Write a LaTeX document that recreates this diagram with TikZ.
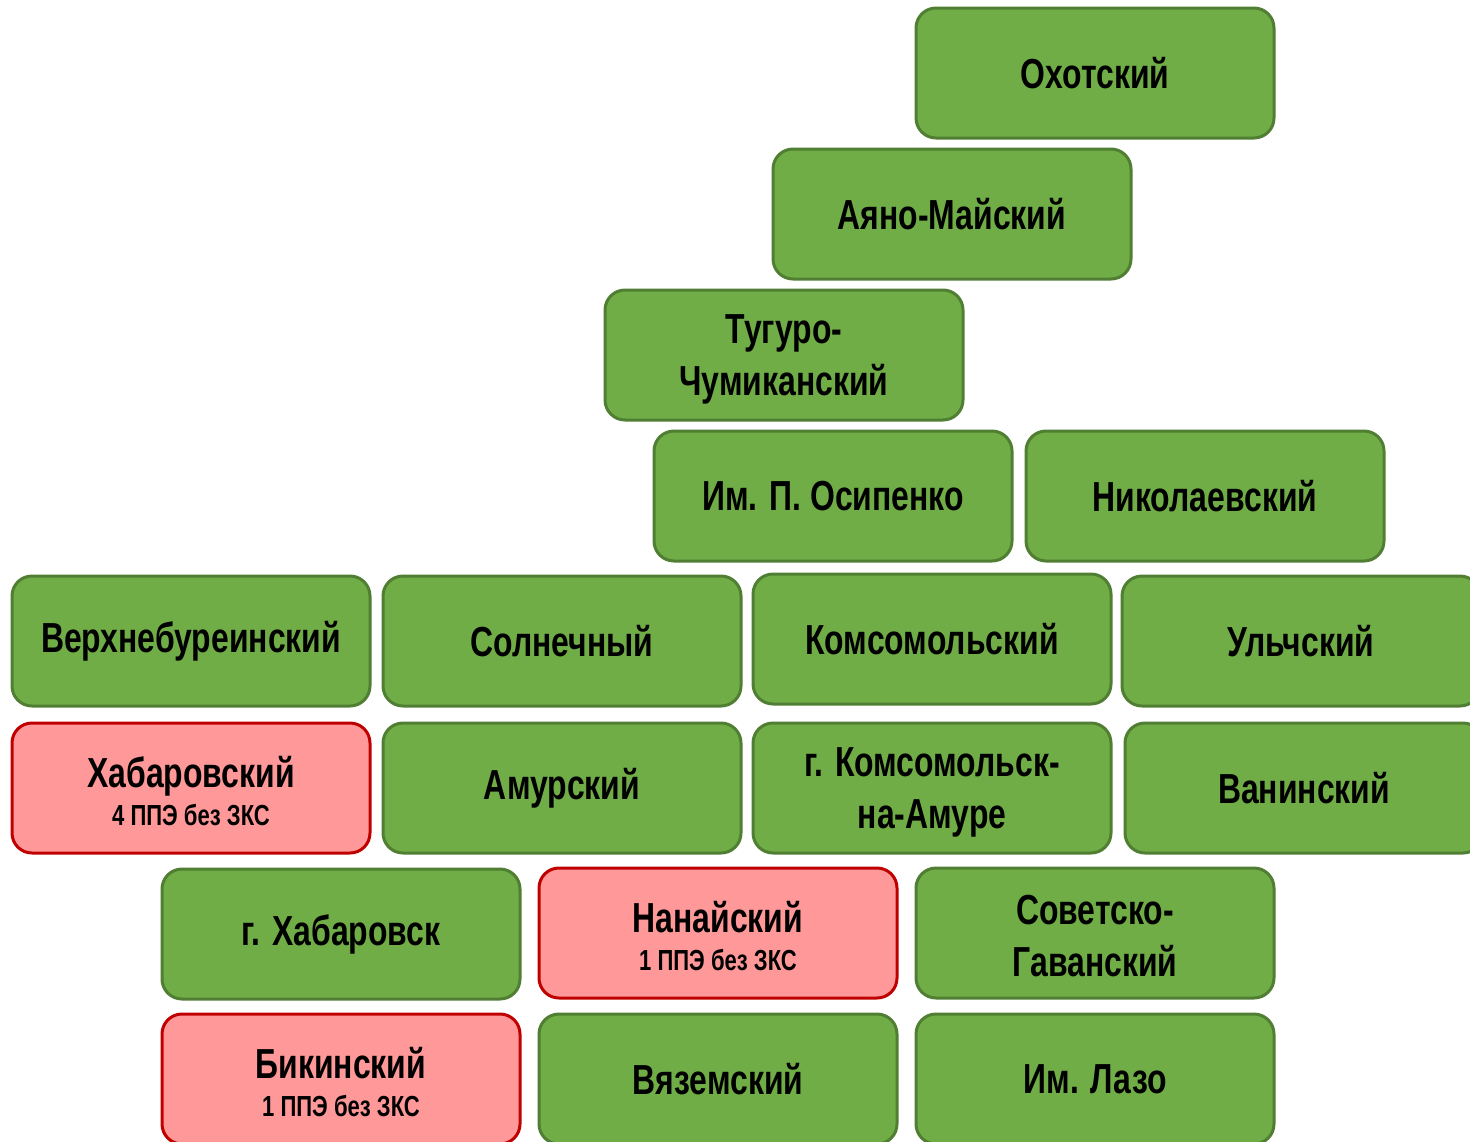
\documentclass[tikz,border=0pt]{standalone}
\usepackage{fontspec}
\setmainfont[FakeStretch=0.76]{Liberation Sans}
\definecolor{gfill}{HTML}{70AD47}
\definecolor{gdraw}{HTML}{507E32}
\definecolor{rfill}{HTML}{FF9999}
\definecolor{rdraw}{HTML}{C00000}
\newcommand{\ttl}[1]{{\fontsize{42}{52}\selectfont\bfseries #1}}
\newcommand{\sub}[1]{{\fontsize{29}{32}\selectfont\bfseries #1}}
\tikzset{
  boxbase/.style={rectangle, rounded corners=20pt, minimum width=358pt, minimum height=130pt,
    inner sep=0pt, align=center, line width=3pt, text=black,
    font=\fontsize{42}{52}\selectfont\bfseries},
  gbox/.style={boxbase, fill=gfill, draw=gdraw},
  rbox/.style={boxbase, fill=rfill, draw=rdraw},
  txt/.style={inner sep=0pt, align=center, text=black, font=\fontsize{42}{52}\selectfont\bfseries},
}
\begin{document}
\begin{tikzpicture}[x=1pt,y=-1pt]
\useasboundingbox (0,0) rectangle (1470,1141);
\clip (0,0) rectangle (1470,1141);
\node[gbox] (ohot) at (1095,73) {Охотский};
\node[gbox] (ayano) at (952,214) {Аяно-Майский};
\node[gbox] (tugur) at (784,355) {};
\node[txt] (tugurt) at ([yshift=-4pt]tugur.center) {Тугуро-\\Чумиканский};
\node[gbox] (osip) at (833,496) {Им. П. Осипенко};
\node[gbox] (nikol) at (1205,496) {Николаевский};
\node[gbox] (verh) at (191,641) {Верхнебуреинский};
\node[gbox] (soln) at (562,641) {Солнечный};
\node[gbox] (koms) at (932,639) {Комсомольский};
\node[gbox] (ulch) at (1301,641) {Ульчский};
\node[rbox] (khab) at (191,788) {};
\node[txt] (khabt) at ([yshift=-3pt]khab.center) {\ttl{Хабаровский}\\[-14pt]\sub{4 ППЭ без ЗКС}};
\node[gbox] (amur) at (562,788) {Амурский};
\node[gbox] (gkoms) at (932,788) {};
\node[txt] (gkomst) at ([yshift=-4pt]gkoms.center) {г. Комсомольск-\\на-Амуре};
\node[gbox] (vanin) at (1304,788) {Ванинский};
\node[gbox] (gkhab) at (341,934) {г. Хабаровск};
\node[rbox] (nanai) at (718,933) {};
\node[txt] (nanait) at ([yshift=-3pt]nanai.center) {\ttl{Нанайский}\\[-14pt]\sub{1 ППЭ без ЗКС}};
\node[gbox] (sovgav) at (1095,933) {};
\node[txt] (sovgavt) at ([yshift=-3pt]sovgav.center) {Советско-\\Гаванский};
\node[rbox] (bikin) at (341,1079) {};
\node[txt] (bikint) at ([yshift=-3pt]bikin.center) {\ttl{Бикинский}\\[-14pt]\sub{1 ППЭ без ЗКС}};
\node[gbox] (vyaz) at (718,1079) {Вяземский};
\node[gbox] (lazo) at (1095,1079) {Им. Лазо};
\end{tikzpicture}
\end{document}
